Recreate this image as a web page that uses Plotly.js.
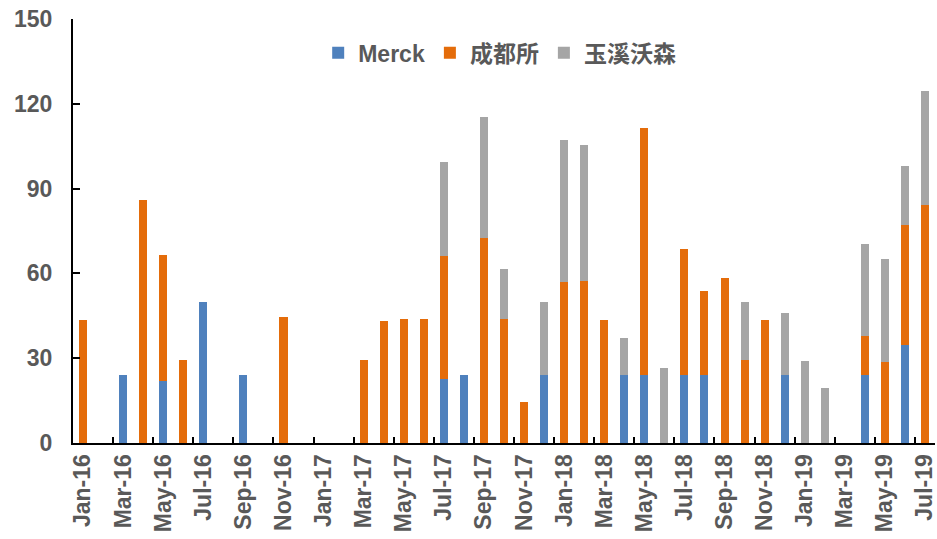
<!DOCTYPE html>
<html>
<head>
<meta charset="utf-8">
<script src="https://cdn.plot.ly/plotly-3.0.1.min.js"></script>
<style>html,body{margin:0;padding:0;background:#fff;}#chart{width:937px;height:539px;}</style>
</head>
<body>
<div id="chart"></div>
<script>
const months = ["Jan-16","Feb-16","Mar-16","Apr-16","May-16","Jun-16","Jul-16","Aug-16","Sep-16","Oct-16","Nov-16","Dec-16",
"Jan-17","Feb-17","Mar-17","Apr-17","May-17","Jun-17","Jul-17","Aug-17","Sep-17","Oct-17","Nov-17","Dec-17",
"Jan-18","Feb-18","Mar-18","Apr-18","May-18","Jun-18","Jul-18","Aug-18","Sep-18","Oct-18","Nov-18","Dec-18",
"Jan-19","Feb-19","Mar-19","Apr-19","May-19","Jun-19","Jul-19"];

const merck = [null,null,24.2,null,22,null,50,null,24.2,null,null,null,
null,null,null,null,null,null,22.6,24,null,null,null,24,
null,null,null,24,24,null,24,24,null,null,null,24,
null,null,null,24,null,34.7,null];

const chengdu = [43.5,null,null,86,44.5,29.5,null,null,null,null,44.7,null,
null,null,29.3,43.2,44,43.8,43.7,null,72.7,43.7,14.5,null,
56.8,57.3,43.5,null,87.5,null,44.7,29.9,58.2,29.2,43.6,null,
null,null,null,14,28.5,42.3,84.3];

const yuxi = [null,null,null,null,null,null,null,null,null,null,null,null,
null,null,null,null,null,null,33.2,null,42.5,17.9,null,25.8,
50.5,48,null,13.1,null,26.6,null,null,null,20.7,null,21.9,
29.1,19.4,null,32.3,36.5,20.9,40.2];

const tickMonths = months.filter((m, i) => i % 2 === 0);
const yTicks = [0, 30, 60, 90, 120, 150];

const seriesNames = ["Merck", "成都所", "玉溪沃森"];
const seriesColors = ["#4F81BD", "#E46C0A", "#A5A5A5"];
const seriesData = [merck, chengdu, yuxi];

const traces = seriesData.map((vals, i) => ({
  type: "bar",
  name: seriesNames[i],
  x: months,
  y: vals,
  marker: {color: seriesColors[i]},
  hoverinfo: "x+y+name"
}));

const fontFam = "'Liberation Sans', Arial, 'Noto Sans CJK SC', sans-serif";

const layout = {
  width: 937,
  height: 539,
  margin: {l: 73, r: 2, t: 19, b: 96},
  barmode: "stack",
  bargap: 0.6,
  paper_bgcolor: "#fff",
  plot_bgcolor: "#fff",
  font: {family: fontFam, color: "#595959"},
  showlegend: true,
  legend: {
    orientation: "h",
    x: 0.495, xanchor: "center",
    y: 0.92, yanchor: "middle",
    traceorder: "normal",
    itemwidth: 30,
    font: {size: 23, color: "#595959", weight: "bold", family: fontFam}
  },
  xaxis: {
    type: "category",
    categoryorder: "array",
    categoryarray: months,
    range: [-0.5, months.length - 0.5],
    tickmode: "array",
    tickvals: tickMonths,
    ticktext: tickMonths,
    tickangle: -90,
    ticks: "inside",
    tickson: "boundaries",
    ticklen: 6,
    tickwidth: 2,
    tickcolor: "#000",
    showline: true,
    linecolor: "#000",
    linewidth: 2,
    showgrid: false,
    zeroline: false,
    fixedrange: true,
    tickfont: {size: 23, color: "#595959", weight: "bold", family: fontFam}
  },
  yaxis: {
    range: [0, 150],
    tickmode: "array",
    tickvals: yTicks,
    ticktext: yTicks.map(String),
    ticks: "inside",
    ticklen: 7,
    tickwidth: 2,
    tickcolor: "#000",
    showline: true,
    linecolor: "#000",
    linewidth: 2,
    showgrid: false,
    zeroline: false,
    ticklabelstandoff: 14,
    fixedrange: true,
    tickfont: {size: 23, color: "#595959", weight: "bold", family: fontFam}
  }
};

Plotly.newPlot("chart", traces, layout, {displayModeBar: false, staticPlot: true});
</script>
</body>
</html>
